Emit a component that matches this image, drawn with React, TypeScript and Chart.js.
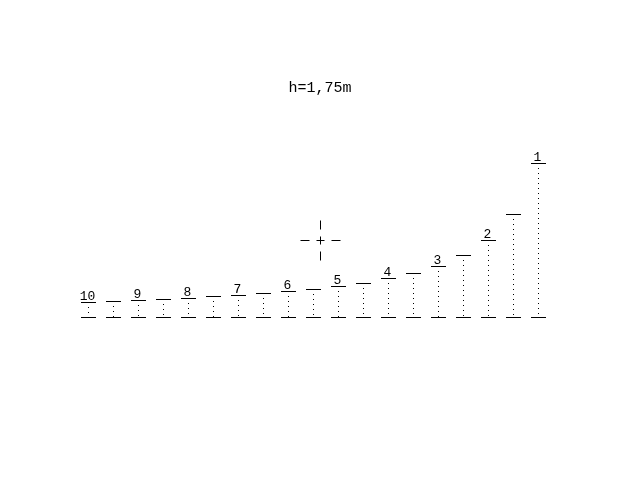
import { useEffect, useRef } from "react";
import { Chart, registerables } from "chart.js";

Chart.register(...registerables);

const TITLE = "h=1,75m";
// column positions (index along the row of markers)
const columnIndex = [0, 1, 2, 3, 4, 5, 6, 7, 8, 9, 10, 11, 12, 13, 14, 15, 16, 17, 18];
// apparent heights
const heights = [15, 16, 17, 18, 19, 21, 22, 24, 26, 28, 31, 34, 39, 44, 51, 62, 77, 103, 154];
// labels shown above every other column
const columnLabels = ["10", "", "9", "", "8", "", "7", "", "6", "", "5", "", "4", "", "3", "", "2", "", "1"];
// crosshair centre and arm extents (data units)
const crossCenter = { x: 9.28, y: 77 };
const crossArmsX = [[-0.8, -0.44], [-0.16, 0.16], [0.44, 0.8]];
const crossArmsY = [[-20, -11], [-4, 4], [11, 20]];

const labelPlugin = {
  id: "colLabels",
  afterDatasetsDraw(chart: any) {
    const meta = chart.getDatasetMeta(1);
    const ctx = chart.ctx;
    ctx.save();
    ctx.font = '13px "Liberation Mono"';
    ctx.fillStyle = "#000";
    ctx.textAlign = "center";
    ctx.textBaseline = "alphabetic";
    meta.data.forEach((el: any, i: number) => {
      const t = columnLabels[i];
      if (t) ctx.fillText(t, el.x - 1, el.y - 2.5);
    });
    ctx.restore();
  },
};

export default function App() {
  const ref = useRef<HTMLCanvasElement | null>(null);

  useEffect(() => {
    if (!ref.current) return;
    const stems: any[] = [];
    columnIndex.forEach((x, i) => {
      stems.push({ x, y: heights[i] }, { x, y: 0 }, { x, y: null });
    });
    const cross: any[] = [];
    crossArmsX.forEach(([a, b]) => {
      cross.push({ x: crossCenter.x + a, y: crossCenter.y }, { x: crossCenter.x + b, y: crossCenter.y }, { x: crossCenter.x, y: null });
    });
    crossArmsY.forEach(([a, b]) => {
      cross.push({ x: crossCenter.x, y: crossCenter.y + a }, { x: crossCenter.x, y: crossCenter.y + b }, { x: crossCenter.x, y: null });
    });

    const chart = new Chart(ref.current, {
      type: "scatter",
      data: {
        datasets: [
          {
            label: "base",
            data: columnIndex.map((x) => ({ x, y: 0 })),
            pointStyle: "line",
            pointRadius: 7.5,
            pointBorderWidth: 1,
            borderColor: "#000",
            backgroundColor: "#000",
            showLine: false,
          },
          {
            label: "top",
            data: columnIndex.map((x, i) => ({ x, y: heights[i] })),
            pointStyle: "line",
            pointRadius: 7.5,
            pointBorderWidth: 1,
            borderColor: "#000",
            backgroundColor: "#000",
            showLine: false,
          },
          {
            label: "stems",
            data: stems,
            showLine: true,
            spanGaps: false,
            borderColor: "#000",
            borderWidth: 1,
            borderDash: [1, 4],
            borderDashOffset: 0.5,
            pointRadius: 0,
          },
          {
            label: "cross",
            data: cross,
            showLine: true,
            spanGaps: false,
            borderColor: "#000",
            borderWidth: 1,
            pointRadius: 0,
          },
        ],
      },
      options: {
        animation: false,
        responsive: false,
        events: [],
        layout: { padding: 0, autoPadding: false },
        plugins: {
          legend: { display: false },
          tooltip: { enabled: false },
          title: {
            display: true,
            text: TITLE,
            color: "#000",
            font: { family: "Liberation Mono", size: 15, weight: "normal" },
            padding: { top: 79, bottom: 3 },
          },
        },
        scales: {
          x: { type: "linear", display: false, min: -3.54, max: 22.06 },
          y: { type: "linear", display: false, min: -162.5, max: 217.5 },
        },
      },
      plugins: [labelPlugin],
    });
    return () => chart.destroy();
  }, []);

  return (
    <div style={{ position: "absolute", left: 0, top: 0, width: 640, height: 480, background: "#fff" }}>
      <canvas ref={ref} width={640} height={480} />
    </div>
  );
}
